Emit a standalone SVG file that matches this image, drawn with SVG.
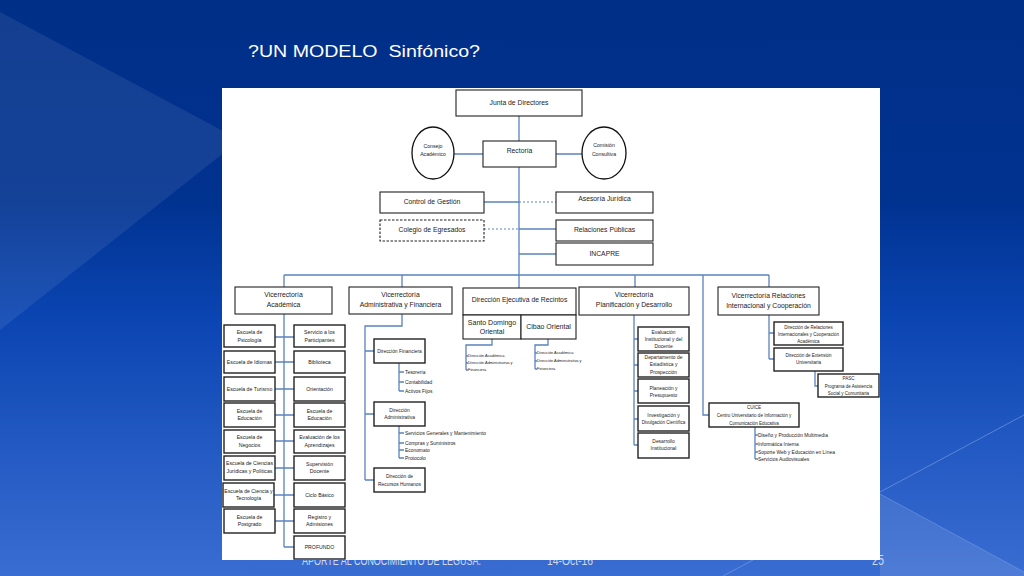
<svg xmlns="http://www.w3.org/2000/svg" width="1024" height="576" viewBox="0 0 1024 576">
<defs>
<linearGradient id="bg" x1="0" y1="0" x2="0" y2="1">
<stop offset="0" stop-color="#002f87"/>
<stop offset="0.35" stop-color="#003290"/>
<stop offset="0.55" stop-color="#0b45b2"/>
<stop offset="1" stop-color="#3a6dd2"/>
</linearGradient>
<style>
.b{fill:#fff;stroke:#222;stroke-width:1.1}
.s{fill:#fff;stroke:#222;stroke-width:1.4}
.d{fill:#fff;stroke:#222;stroke-width:1.1;stroke-dasharray:2.5 1.5}
.e{fill:#fff;stroke:#111;stroke-width:1.3}
.c{fill:none;stroke:#5b82bd;stroke-width:1.3}
.cd{fill:none;stroke:#5b82bd;stroke-width:1.2;stroke-dasharray:2 2}
text{font-family:'Liberation Sans',Arial,sans-serif;fill:#222}
.m{text-anchor:middle}
.st{text-anchor:start}
.f7{font-size:6.8px}
.f75{font-size:7px}
.f5{font-size:5.2px}
.f49{font-size:4.9px}
.f45{font-size:4.5px}
.f4{font-size:3.9px}
</style>
</defs>
<rect x="0" y="0" width="1024" height="576" fill="url(#bg)"/>
<polygon points="0,12 240,140 0,330" fill="#ffffff" opacity="0.08"/>
<polygon points="880,494 1024,572 1024,576 880,576" fill="#ffffff" opacity="0.1"/>
<line x1="1024" y1="415" x2="723" y2="576" stroke="#7fa3e6" stroke-width="1" opacity="0.6"/>
<line x1="880" y1="494" x2="1024" y2="572" stroke="#7fa3e6" stroke-width="1" opacity="0.5"/>
<text x="248" y="57" font-size="16" textLength="232" lengthAdjust="spacingAndGlyphs" xml:space="preserve" style="fill:#ffffff">?UN MODELO  Sinfónico?</text>
<text x="302" y="565" font-size="13" textLength="179" lengthAdjust="spacingAndGlyphs" style="fill:#cdd9f2">APORTE AL CONOCIMIENTO DE LEGUSA.</text>
<text x="547" y="565" font-size="13" textLength="46" lengthAdjust="spacingAndGlyphs" style="fill:#cdd9f2">14-Oct-16</text>
<text x="872" y="565" font-size="14" textLength="12" lengthAdjust="spacingAndGlyphs" style="fill:#cdd9f2">25</text>
<rect x="222" y="88" width="658" height="472" fill="#ffffff"/>

<g id="connectors">
<path class="c" d="M519 116V288M454 154H483M556 154H582M484 202H519M519 229H556M519 254H556"/>
<path class="cd" d="M519 202H556M484 229H519"/>
<path class="c" d="M284 275H769M284 275V287M402 275V287M635 275V287M769 275V287M703 275V415H709"/>
<path class="c" d="M284 314V547M275 337H294M275 362H294M275 389H294M275 415H294M275 441H294M275 468H294M274 495H294M275 521H294M284 547H294"/>
<path class="c" d="M402 314V326H365V480M365 351H374M365 414H374M365 480H374"/>
<path class="c" d="M399 363V391M399 372H404M399 382H404M399 391H404"/>
<path class="c" d="M399 426V458M399 433H404M399 443H404M399 450H404M399 458H404"/>
<path class="c" d="M492 339V345H466V370M466 356H468M466 363H468M466 370H468"/>
<path class="c" d="M548 339V345H535V369M535 353H537M535 361H537M535 369H537"/>
<path class="c" d="M634 315V445M634 339H638M634 365H638M634 391H638M634 419H638M634 445H638"/>
<path class="c" d="M769 315V359M769 333H774M769 359H774M815 371V386H818"/>
<path class="c" d="M755 427V459M755 435H758M755 444H758M755 452H758M755 459H758"/>
</g>

<g id="junta"><rect class="b" x="456" y="90" width="126" height="26"/><text class="m f7" x="519" y="104.5">Junta de Directores</text></g>
<g id="rectoria"><rect class="b" x="483" y="141" width="73" height="26"/><text class="m f7" x="519.5" y="152.5">Rectoría</text></g>
<g id="consejo"><ellipse class="e" cx="433" cy="153" rx="21" ry="26"/><text class="m f5" x="433" y="147.7">Consejo</text><text class="m f5" x="433" y="155.7">Académico</text></g>
<g id="comision"><ellipse class="e" cx="604" cy="153" rx="22" ry="26"/><text class="m f5" x="604" y="146.7">Comisión</text><text class="m f5" x="604" y="156">Consultiva</text></g>
<g id="control"><rect class="b" x="380" y="192" width="104" height="21"/><text class="m f7" x="432" y="204.2">Control de Gestión</text></g>
<g id="asesoria"><rect class="b" x="556" y="192" width="97" height="21"/><text class="m f7" x="604.5" y="200.7">Asesoría Jurídica</text></g>
<g id="colegio"><rect class="d" x="380" y="220" width="104" height="21"/><text class="m f7" x="432" y="232.4">Colegio de Egresados</text></g>
<g id="relaciones"><rect class="b" x="556" y="220" width="97" height="21"/><text class="m f7" x="604.5" y="232.4">Relaciones Públicas</text></g>
<g id="incapre"><rect class="b" x="556" y="243" width="97" height="22"/><text class="m f7" x="604.5" y="255.7">INCAPRE</text></g>

<g id="vr-academica"><rect class="b" x="235" y="287" width="97" height="27"/><text class="m f7" x="283.5" y="297.4">Vicerrectoría</text><text class="m f7" x="283.5" y="307.4">Académica</text></g>
<g id="vr-administrativa"><rect class="b" x="349" y="287" width="103" height="27"/><text class="m f7" x="400.5" y="297.4">Vicerrectoría</text><text class="m f7" x="400.5" y="307.4">Administrativa y Financiera</text></g>
<g id="recintos"><rect class="b" x="463" y="288" width="113" height="27"/><text class="m f7" x="519.5" y="302.4">Dirección Ejecutiva de Recintos</text></g>
<g id="santo-domingo"><rect class="b" x="463" y="315" width="58" height="24"/><text class="m f75" x="492" y="325.2">Santo Domingo</text><text class="m f75" x="492" y="334.2">Oriental</text></g>
<g id="cibao"><rect class="b" x="521" y="315" width="55" height="24"/><text class="m f75" x="548.5" y="329.3">Cibao Oriental</text></g>
<g id="vr-planificacion"><rect class="b" x="579" y="287" width="110" height="28"/><text class="m f7" x="634" y="297.4">Vicerrectoría</text><text class="m f7" x="634" y="307.4">Planificación y Desarrollo</text></g>
<g id="vr-relaciones"><rect class="b" x="718" y="287" width="101" height="28"/><text class="m f7" x="768.5" y="298.4">Vicerrectoría Relaciones</text><text class="m f7" x="768.5" y="308.4">Internacional y Cooperación</text></g>

<g id="psicologia"><rect class="s" x="224" y="325" width="51" height="22"/><text class="m f5" x="249.5" y="334">Escuela de</text><text class="m f5" x="249.5" y="341.7">Psicología</text></g>
<g id="servicio"><rect class="s" x="294" y="325" width="51" height="22"/><text class="m f5" x="319.5" y="334">Servicio a los</text><text class="m f5" x="319.5" y="341.7">Participantes</text></g>
<g id="idiomas"><rect class="s" x="224" y="351" width="51" height="22"/><text class="m f5" x="249.5" y="363.8">Escuela de Idiomas</text></g>
<g id="biblioteca"><rect class="s" x="294" y="351" width="51" height="22"/><text class="m f5" x="319.5" y="363.8">Biblioteca</text></g>
<g id="turismo"><rect class="s" x="224" y="377" width="51" height="24"/><text class="m f5" x="249.5" y="390.8">Escuela de Turismo</text></g>
<g id="orientacion"><rect class="s" x="294" y="377" width="51" height="24"/><text class="m f5" x="319.5" y="390.8">Orientación</text></g>
<g id="educacion-1"><rect class="s" x="224" y="403" width="51" height="24"/><text class="m f5" x="249.5" y="412.5">Escuela de</text><text class="m f5" x="249.5" y="420.2">Educación</text></g>
<g id="educacion-2"><rect class="s" x="294" y="403" width="51" height="24"/><text class="m f5" x="319.5" y="412.5">Escuela de</text><text class="m f5" x="319.5" y="420.2">Educación</text></g>
<g id="negocios"><rect class="s" x="224" y="430" width="51" height="23"/><text class="m f5" x="249.5" y="439">Escuela de</text><text class="m f5" x="249.5" y="446.7">Negocios</text></g>
<g id="evaluacion"><rect class="s" x="294" y="430" width="51" height="23"/><text class="m f5" x="319.5" y="439">Evaluación de los</text><text class="m f5" x="319.5" y="446.7">Aprendizajes</text></g>
<g id="juridicas"><rect class="s" x="224" y="456" width="51" height="24"/><text class="m f5" x="249.5" y="465">Escuela de Ciencias</text><text class="m f5" x="249.5" y="473">Jurídicas y Políticas</text></g>
<g id="supervision"><rect class="s" x="294" y="456" width="51" height="24"/><text class="m f5" x="319.5" y="465.5">Supervisión</text><text class="m f5" x="319.5" y="473.2">Docente</text></g>
<g id="tecnologia"><rect class="s" x="223" y="483" width="51" height="24"/><text class="m f5" x="248.5" y="492.7">Escuela de Ciencia y</text><text class="m f5" x="248.5" y="500">Tecnología</text></g>
<g id="ciclo"><rect class="s" x="294" y="483" width="51" height="24"/><text class="m f5" x="319.5" y="496.8">Ciclo Básico</text></g>
<g id="postgrado"><rect class="s" x="224" y="509" width="51" height="24"/><text class="m f5" x="249.5" y="518.5">Escuela de</text><text class="m f5" x="249.5" y="526.2">Postgrado</text></g>
<g id="registro"><rect class="s" x="294" y="509" width="51" height="24"/><text class="m f5" x="319.5" y="518.5">Registro y</text><text class="m f5" x="319.5" y="526.2">Admisiones</text></g>
<g id="profundo"><rect class="s" x="294" y="536" width="51" height="23"/><text class="m f5" x="319.5" y="549">PROFUNDO</text></g>

<g id="dir-financiera"><rect class="s" x="374" y="339" width="51" height="24"/><text class="m f49" x="399.5" y="352.8">Dirección Financiera</text></g>
<g id="financiera-items"><text class="st f49" x="405" y="373.6">Tesorería</text><text class="st f49" x="405" y="383.8">Contabilidad</text><text class="st f49" x="405" y="392.6">Activos Fijos</text></g>
<g id="dir-administrativa"><rect class="s" x="374" y="402" width="51" height="24"/><text class="m f49" x="399.5" y="411.8">Dirección</text><text class="m f49" x="399.5" y="419.3">Administrativa</text></g>
<g id="administrativa-items"><text class="st f49" x="405" y="434.7">Servicios Generales y Mantenimiento</text><text class="st f49" x="405" y="444.7">Compras y Suministros</text><text class="st f49" x="405" y="452">Economato</text><text class="st f49" x="405" y="459.5">Protocolo</text></g>
<g id="dir-rrhh"><rect class="s" x="374" y="468" width="51" height="24"/><text class="m f49" x="399.5" y="478">Dirección de</text><text class="m f49" x="399.5" y="485.5">Recursos Humanos</text></g>

<g id="sdo-items"><text class="st f4" x="468" y="357.4">Dirección Académica</text><text class="st f4" x="468" y="364.3">Dirección Administrativa y</text><text class="st f4" x="468" y="371">Financiera</text></g>
<g id="cibao-items"><text class="st f4" x="537" y="354.3">Dirección Académica</text><text class="st f4" x="537" y="362.4">Dirección Administrativa y</text><text class="st f4" x="537" y="369.8">Financiera</text></g>

<g id="eval-institucional"><rect class="s" x="638" y="327" width="51" height="24"/><text class="m f49" x="663.5" y="334">Evaluación</text><text class="m f49" x="663.5" y="341">Institucional y del</text><text class="m f49" x="663.5" y="348">Docente</text></g>
<g id="estadistica"><rect class="s" x="638" y="353" width="51" height="24"/><text class="m f49" x="663.5" y="359">Departamento de</text><text class="m f49" x="663.5" y="366">Estadística y</text><text class="m f49" x="663.5" y="374">Prospección</text></g>
<g id="planeacion"><rect class="s" x="638" y="379" width="51" height="24"/><text class="m f49" x="663.5" y="390">Planeación y</text><text class="m f49" x="663.5" y="397">Presupuesto</text></g>
<g id="investigacion"><rect class="s" x="638" y="406" width="51" height="25"/><text class="m f49" x="663.5" y="417">Investigación y</text><text class="m f45" x="663.5" y="424">Divulgación Científica</text></g>
<g id="desarrollo"><rect class="s" x="638" y="433" width="51" height="25"/><text class="m f49" x="663.5" y="443">Desarrollo</text><text class="m f49" x="663.5" y="450">Institucional</text></g>

<g id="dri"><rect class="s" x="774" y="322" width="69" height="23"/><text class="m f45" x="808.5" y="329">Dirección de Relaciones</text><text class="m f45" x="808.5" y="336">Internacionales y Cooperación</text><text class="m f45" x="808.5" y="343">Académica</text></g>
<g id="extension"><rect class="s" x="774" y="348" width="69" height="23"/><text class="m f45" x="808.5" y="356.5">Dirección de Extensión</text><text class="m f45" x="808.5" y="364">Universitaria</text></g>
<g id="pasc"><rect class="s" x="818" y="374" width="61" height="23"/><text class="m f45" x="848.5" y="379.5">PASC</text><text class="m f45" x="848.5" y="387.5">Programa de Asistencia</text><text class="m f45" x="848.5" y="395">Social y Comunitaria</text></g>
<g id="cuice"><rect class="s" x="709" y="403" width="90" height="24"/><text class="m f45" x="754" y="408.5">CUICE</text><text class="m f45" x="754" y="416.5">Centro Universitario de Información y</text><text class="m f45" x="754" y="424.5">Comunicación Educativa</text></g>
<g id="cuice-items"><text class="st f49" x="758" y="436.8">Diseño y Producción Multimedia</text><text class="st f49" x="758" y="445.8">Informática Interna</text><text class="st f49" x="758" y="453.5">Soporte Web y Educación en Línea</text><text class="st f49" x="758" y="461.1">Servicios Audiovisuales</text></g>
</svg>
